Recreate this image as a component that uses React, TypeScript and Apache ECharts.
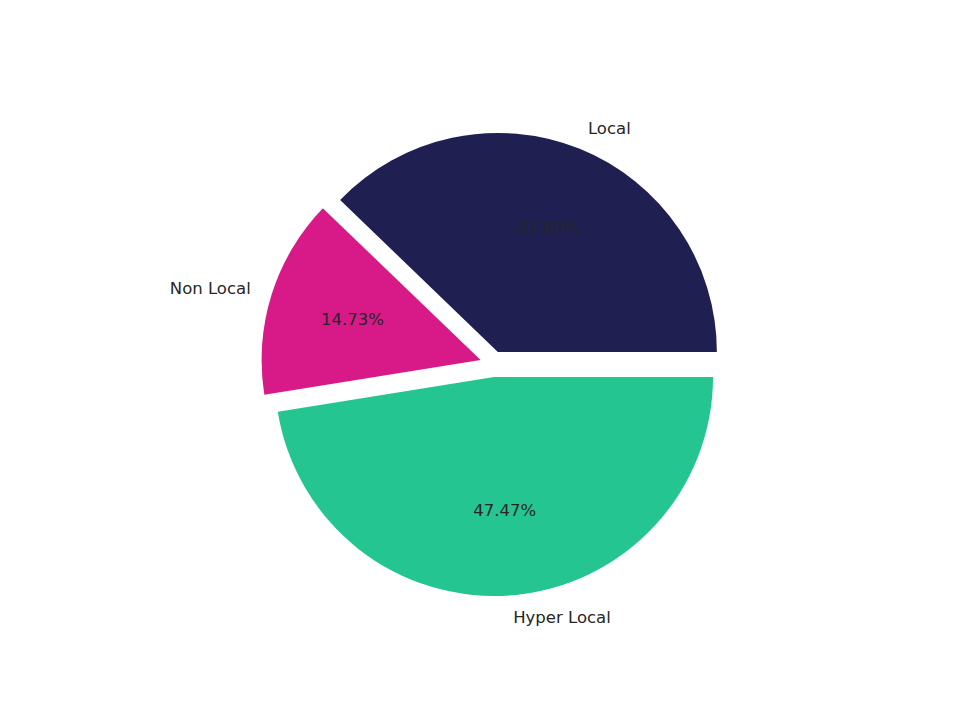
import React, { useEffect, useRef } from 'react';
import * as echarts from 'echarts';

const labels = ['Local', 'Non Local', 'Hyper Local'];
const shares = [37.8, 14.73, 47.47];
const colors = ['#1f1f52', '#d81a88', '#25c592'];

const R = 219;
const CENTER = [493, 364];
const EXPLODE = 13;
const FONT = { fontFamily: 'DejaVu Sans', fontSize: 16.5, color: '#262626' };

const App: React.FC = () => {
  const ref = useRef<HTMLDivElement>(null);

  useEffect(() => {
    if (!ref.current) return;
    const chart = echarts.init(ref.current, undefined, { renderer: 'svg' });

    const base = {
      type: 'pie' as const,
      center: CENTER,
      startAngle: 0,
      clockwise: false,
      selectedMode: 'multiple' as const,
      selectedOffset: EXPLODE,
      avoidLabelOverlap: false,
      silent: true,
      emphasis: { disabled: true },
    };

    chart.setOption({
      animation: false,
      backgroundColor: '#ffffff',
      series: [
        {
          ...base,
          radius: [0, R],
          data: labels.map((name, i) => ({
            name,
            value: shares[i],
            selected: true,
            itemStyle: { color: colors[i] },
            select: { itemStyle: { color: colors[i] } },
          })),
          label: {
            show: true,
            position: 'outside',
            formatter: '{b}',
            distanceToLabelLine: 0,
            ...FONT,
          },
          labelLine: { show: false, length: R * 0.1, length2: 0 },
        },
        {
          ...base,
          radius: [0, R * 1.2],
          data: labels.map((name, i) => ({
            name,
            value: shares[i],
            selected: true,
            itemStyle: { color: 'rgba(0,0,0,0)' },
            select: { itemStyle: { color: 'rgba(0,0,0,0)' } },
          })),
          label: {
            show: true,
            position: 'inside',
            formatter: (p: any) => `${Number(p.value).toFixed(2)}%`,
            ...FONT,
          },
          labelLine: { show: false },
        },
      ],
    });

    return () => chart.dispose();
  }, []);

  return (
    <div
      ref={ref}
      style={{ position: 'absolute', left: 0, top: 0, width: 960, height: 720 }}
    />
  );
};

export default App;
